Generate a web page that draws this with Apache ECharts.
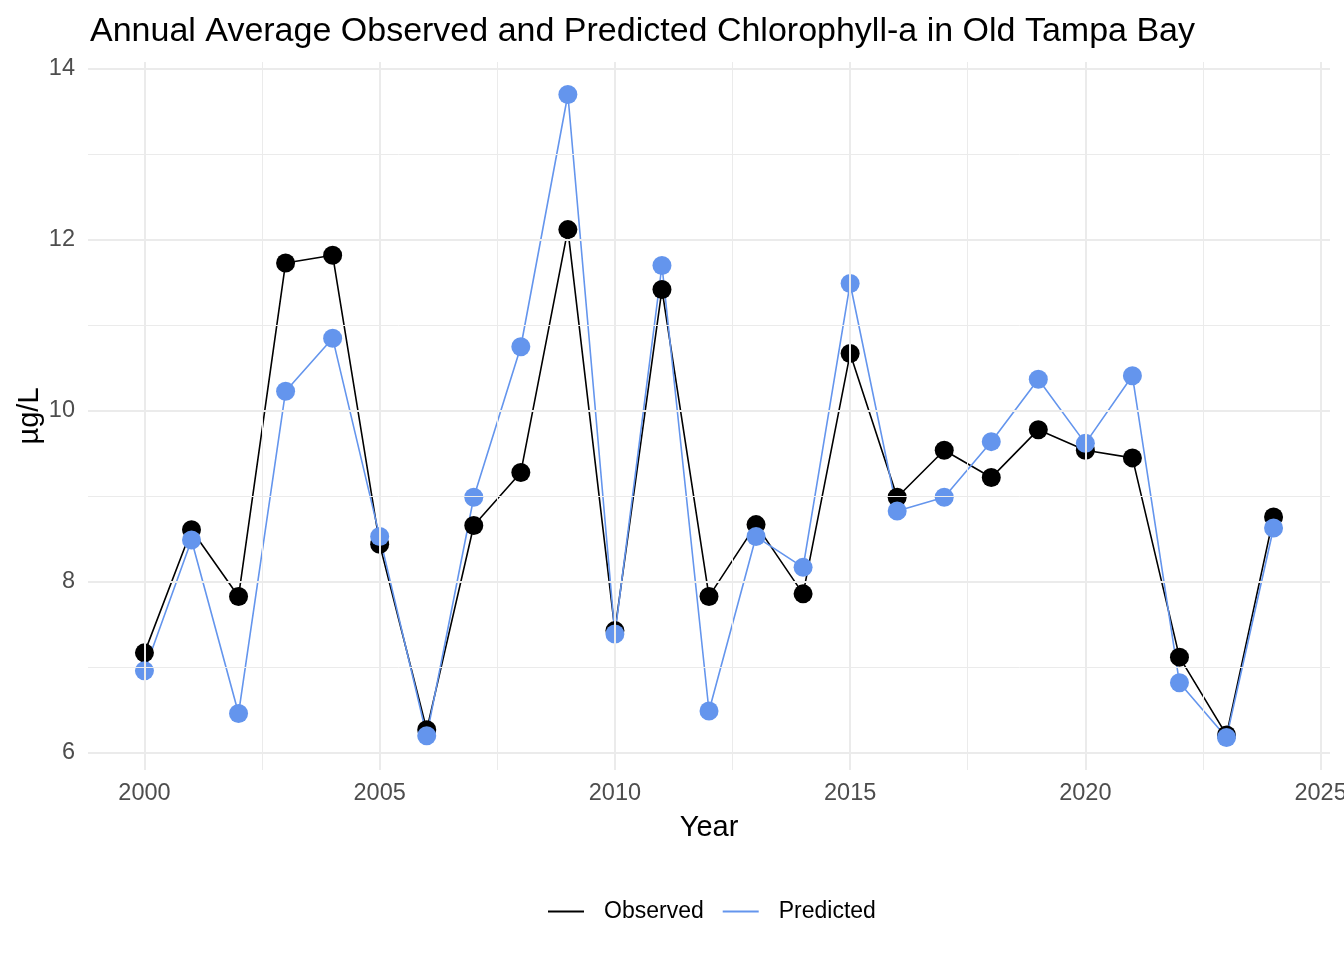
<!DOCTYPE html>
<html>
<head>
<meta charset="utf-8">
<script src="https://cdn.jsdelivr.net/npm/echarts@6/dist/echarts.min.js"></script>
<style>html,body{margin:0;padding:0;background:#fff}#c{width:1344px;height:960px}</style>
</head>
<body>
<div id="c"></div>
<script>
const years = [2000,2001,2002,2003,2004,2005,2006,2007,2008,2009,2010,2011,2012,2013,2014,2015,2016,2017,2018,2019,2020,2021,2022,2023,2024];
const observed = [7.17,8.61,7.83,11.73,11.82,8.44,6.27,8.66,9.28,12.12,7.43,11.42,7.83,8.67,7.86,10.67,8.99,9.54,9.22,9.78,9.54,9.45,7.12,6.21,8.76];
const predicted = [6.96,8.49,6.46,10.23,10.85,8.53,6.20,8.99,10.75,13.70,7.39,11.70,6.49,8.53,8.17,11.49,8.83,8.99,9.64,10.37,9.62,10.41,6.82,6.18,8.63];
const xTicks = [2000,2005,2010,2015,2020,2025];
const xMinor = [2002.5,2007.5,2012.5,2017.5,2022.5];
const yTicks = [6,8,10,12,14];
const yMinor = [7,9,11,13];

const FONT = '"Liberation Sans", Arial, sans-serif';
const chart = echarts.init(document.getElementById('c'), null, {renderer:'canvas'});
const pairs = a => years.map((y,i)=>[y,a[i]]);
const grid = [];
xMinor.forEach(v=>grid.push({xAxis:v, lineStyle:{color:'#EBEBEB', width:1, type:'solid'}}));
yMinor.forEach(v=>grid.push({yAxis:v, lineStyle:{color:'#EBEBEB', width:1, type:'solid'}}));
xTicks.forEach(v=>grid.push({xAxis:v, lineStyle:{color:'#EBEBEB', width:2, type:'solid'}}));
yTicks.forEach(v=>grid.push({yAxis:v, lineStyle:{color:'#EBEBEB', width:2, type:'solid'}}));

chart.setOption({
  animation:false,
  backgroundColor:'#fff',
  textStyle:{fontFamily:FONT},
  title:{text:'Annual Average Observed and Predicted Chlorophyll-a in Old Tampa Bay', left:85, top:10,
    textStyle:{fontFamily:FONT, fontSize:34, fontWeight:'normal', color:'#000'}},
  grid:{left:88, right:14, top:62, bottom:190, containLabel:false, outerBoundsMode:'none'},
  legend:{
    data:['Observed','Predicted'], left:543, top:895, icon:'rect', itemWidth:36, itemHeight:2,
    itemGap:19, textStyle:{fontFamily:FONT, fontSize:23, color:'#000', padding:[0,0,0,15]}
  },
  xAxis:{type:'value', min:1998.8, max:2025.2,
    name:'Year', nameLocation:'middle', nameGap:43, nameMoveOverlap:false,
    nameTextStyle:{fontFamily:FONT, fontSize:29, color:'#000'},
    axisLine:{show:false}, axisTick:{show:false}, splitLine:{show:false},
    axisLabel:{customValues:xTicks, fontFamily:FONT, fontSize:23.5, color:'#4D4D4D', margin:12, formatter:v=>String(v)}
  },
  yAxis:{type:'value', min:5.8, max:14.08,
    name:'µg/L', nameLocation:'middle', nameGap:44, nameRotate:90, nameMoveOverlap:false,
    nameTextStyle:{fontFamily:FONT, fontSize:29, color:'#000'},
    axisLine:{show:false}, axisTick:{show:false}, splitLine:{show:false},
    axisLabel:{customValues:yTicks, fontFamily:FONT, fontSize:23.5, color:'#4D4D4D', margin:13, formatter:v=>String(v)}
  },
  series:[
    {type:'line', name:'gridlines', data:[], z:0, silent:true,
      markLine:{silent:true, symbol:['none','none'], label:{show:false}, animation:false, data:grid}},
    {type:'line', name:'Observed', data:pairs(observed), showSymbol:false, symbol:'none', z:2,
      itemStyle:{color:'#000000'}, lineStyle:{color:'#000000', width:1.6}},
    {type:'line', name:'Predicted', data:pairs(predicted), showSymbol:false, symbol:'none', z:2,
      itemStyle:{color:'#6495ED'}, lineStyle:{color:'#6495ED', width:1.6}},
    {type:'scatter', name:'ObsPts', data:pairs(observed), symbolSize:19, z:3,
      itemStyle:{color:'#000000', opacity:1}},
    {type:'scatter', name:'PredPts', data:pairs(predicted), symbolSize:19, z:4,
      itemStyle:{color:'#6495ED', opacity:1}}
  ]
});
</script>
</body>
</html>
